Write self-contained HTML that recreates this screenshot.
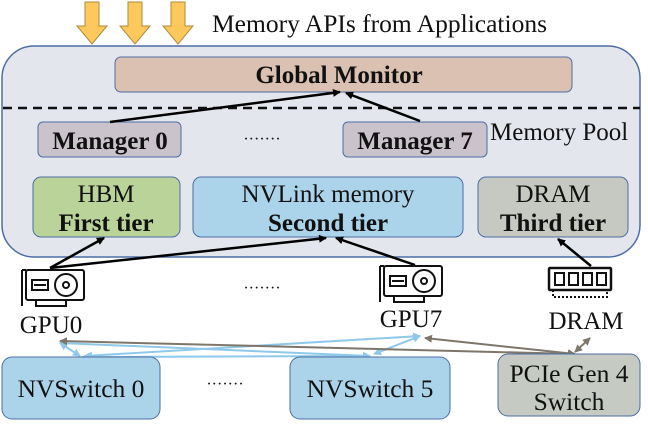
<!DOCTYPE html>
<html><head><style>
body{margin:0;width:648px;height:432px;background:#fff;overflow:hidden}
text{font-family:"Liberation Serif","Times New Roman",serif;fill:#111}
</style></head><body>
<svg width="648" height="432" viewBox="0 0 648 432" xmlns="http://www.w3.org/2000/svg">
<defs>
<marker id="ab" markerWidth="8" markerHeight="8" refX="7" refY="4" orient="auto" markerUnits="userSpaceOnUse"><path d="M0,0 L8,4 L0,8 z" fill="#000"/></marker>
<marker id="al" markerWidth="8" markerHeight="8" refX="7" refY="4" orient="auto-start-reverse" markerUnits="userSpaceOnUse"><path d="M0,0 L8,4 L0,8 z" fill="#8fc9ea"/></marker>
<marker id="ag" markerWidth="8" markerHeight="8" refX="7" refY="4" orient="auto-start-reverse" markerUnits="userSpaceOnUse"><path d="M0,0 L8,4 L0,8 z" fill="#7f766b"/></marker>
</defs>
<g fill="#fdc95c" stroke="#b08a3a" stroke-width="1">
<path d="M85,2 h14 v24 h8 l-15,18 l-15,-18 h8 z"/>
<path d="M128,2 h14 v24 h8 l-15,18 l-15,-18 h8 z"/>
<path d="M171,2 h14 v24 h8 l-15,18 l-15,-18 h8 z"/>
</g>
<text x="212" y="32" font-size="25.5">Memory APIs from Applications</text>
<rect x="2" y="46" width="638" height="211" rx="32" fill="#e4e6ee" stroke="#4d6ea3" stroke-width="1.5"/>
<rect x="115" y="57" width="457" height="35" rx="6" fill="#dbc1b1" stroke="#4d6ea3"/>
<text x="339" y="83" font-size="25" font-weight="bold" text-anchor="middle">Global Monitor</text>
<line x1="3" y1="108" x2="640" y2="108" stroke="#111" stroke-width="2.5" stroke-dasharray="9,6"/>
<rect x="38" y="122" width="143" height="35" rx="5" fill="#cbc3cc" stroke="#4d6ea3"/>
<text x="110" y="149" font-size="25" font-weight="bold" text-anchor="middle">Manager 0</text>
<rect x="343" y="122" width="144" height="35" rx="5" fill="#cbc3cc" stroke="#4d6ea3"/>
<text x="415" y="149" font-size="25" font-weight="bold" text-anchor="middle">Manager 7</text>
<text x="262" y="144" font-size="16" text-anchor="middle">·······</text>
<text x="490" y="140" font-size="25">Memory Pool</text>
<rect x="33" y="177" width="147" height="60" rx="8" fill="#bad399" stroke="#4d6ea3"/>
<text x="106" y="202" font-size="25" text-anchor="middle">HBM</text>
<text x="106" y="231" font-size="25" font-weight="bold" text-anchor="middle">First tier</text>
<rect x="193" y="177" width="270" height="60" rx="8" fill="#abd3ea" stroke="#4d6ea3"/>
<text x="328" y="202" font-size="25" text-anchor="middle">NVLink memory</text>
<text x="328" y="231" font-size="25" font-weight="bold" text-anchor="middle">Second tier</text>
<rect x="478" y="177" width="150" height="60" rx="8" fill="#c5c9c1" stroke="#4d6ea3"/>
<text x="553" y="202" font-size="25" text-anchor="middle">DRAM</text>
<text x="553" y="231" font-size="25" font-weight="bold" text-anchor="middle">Third tier</text>
<g stroke="#000" stroke-width="2.5" marker-end="url(#ab)">
<line x1="110" y1="122" x2="340" y2="92"/>
<line x1="420" y1="121" x2="346" y2="93"/>
<line x1="50" y1="268" x2="104" y2="238"/>
<line x1="50" y1="268" x2="326" y2="238"/>
<line x1="415" y1="265" x2="336" y2="238"/>
<line x1="591" y1="266" x2="558" y2="239"/>
</g>
<g fill="none" stroke="#111" stroke-width="2">
<g transform="translate(22,270)">
<rect x="4" y="0" width="58" height="30" rx="2"/><line x1="0" y1="0" x2="4" y2="0"/><line x1="0" y1="0" x2="0" y2="36"/>
<rect x="10" y="10" width="16" height="10"/><line x1="12" y1="15" x2="24" y2="15"/>
<circle cx="44" cy="15" r="11"/><circle cx="44" cy="15" r="3"/>
<path d="M14,30 v6 h30 v-6"/>
</g>
<g transform="translate(380,266)">
<rect x="4" y="0" width="58" height="30" rx="2"/><line x1="0" y1="0" x2="4" y2="0"/><line x1="0" y1="0" x2="0" y2="36"/>
<rect x="10" y="10" width="16" height="10"/><line x1="12" y1="15" x2="24" y2="15"/>
<circle cx="44" cy="15" r="11"/><circle cx="44" cy="15" r="3"/>
<path d="M14,30 v6 h30 v-6"/>
</g>
<g transform="translate(549,268)">
<rect x="0" y="0" width="62" height="22" rx="1" stroke-width="2.5"/>
<rect x="6" y="5" width="9" height="12"/><rect x="20" y="5" width="9" height="12"/><rect x="34" y="5" width="9" height="12"/><rect x="48" y="5" width="9" height="12"/>
<path d="M4,22 v7 h54 v-7" stroke-dasharray="2,2"/>
</g>
</g>
<text x="51" y="333" font-size="25" text-anchor="middle">GPU0</text>
<text x="411" y="327" font-size="25" text-anchor="middle">GPU7</text>
<text x="586" y="329" font-size="25" text-anchor="middle">DRAM</text>
<text x="262" y="293" font-size="16" text-anchor="middle">·······</text>
<g stroke="#8fc9ea" stroke-width="2" marker-end="url(#al)" marker-start="url(#al)">
<line x1="60" y1="343" x2="80" y2="356"/>
<line x1="82" y1="357" x2="370" y2="356"/>
<line x1="60" y1="343" x2="370" y2="356"/>
<line x1="85" y1="356" x2="420" y2="336"/>
<line x1="374" y1="354" x2="420" y2="336"/>
</g>
<g stroke="#7f766b" stroke-width="2" marker-end="url(#ag)" marker-start="url(#ag)">
<line x1="575" y1="354" x2="60" y2="341"/>
<line x1="575" y1="354" x2="425" y2="338"/>
<line x1="575" y1="352" x2="590" y2="338"/>
</g>
<rect x="2" y="357" width="158" height="62" rx="10" fill="#abd3ea" stroke="#4d6ea3"/>
<text x="81" y="397" font-size="25.5" text-anchor="middle">NVSwitch 0</text>
<rect x="290" y="357" width="160" height="62" rx="10" fill="#abd3ea" stroke="#4d6ea3"/>
<text x="370" y="397" font-size="25.5" text-anchor="middle">NVSwitch 5</text>
<text x="225" y="389" font-size="16" text-anchor="middle">·······</text>
<rect x="498" y="354" width="142" height="62" rx="10" fill="#c5cbc3" stroke="#4d6ea3"/>
<text x="569" y="382" font-size="25.5" text-anchor="middle">PCIe Gen 4</text>
<text x="569" y="410" font-size="25.5" text-anchor="middle">Switch</text>
</svg>
</body></html>
